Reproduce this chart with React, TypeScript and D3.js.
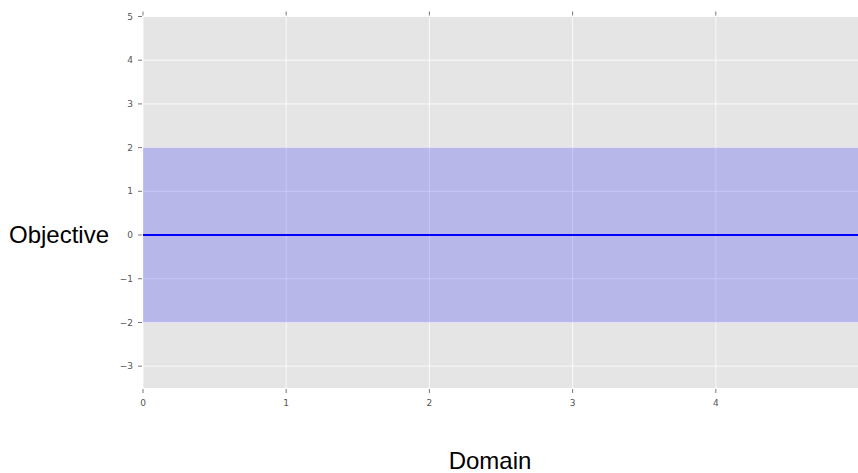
import * as d3 from "d3";
import React from "react";

// chart values
const xDomain = [0, 5];
const yDomain = [-3.5, 5];
const xTicks = [0, 1, 2, 3, 4];
const yTicks = [-3, -2, -1, 0, 1, 2, 3, 4, 5];
const meanX = [0, 5];
const meanY = [0, 0];
const bandLow = [-2, -2];
const bandHigh = [2, 2];

const width = 858;
const height = 473;
const margin = {left: 143, right: 0, top: 16.5, bottom: 85};

export default function App() {
  const x = d3.scaleLinear().domain(xDomain).range([margin.left, width - margin.right + 1]);
  const y = d3.scaleLinear().domain(yDomain).range([height - margin.bottom, margin.top]);

  const pts = meanX.map((v, i) => ({x: v, y: meanY[i], lo: bandLow[i], hi: bandHigh[i]}));

  const area = d3.area<any>().x(d => x(d.x)).y0(d => y(d.lo)).y1(d => y(d.hi));
  const line = d3.line<any>().x(d => x(d.x)).y(d => y(d.y));

  const top = y(yDomain[1]);
  const bottom = y(yDomain[0]);
  const left = x(xDomain[0]);
  const right = x(xDomain[1]);
  const tickColor = "#555";
  const tickFont = "'DejaVu Sans', sans-serif";

  return (
    <div style={{position: "fixed", left: 0, top: 0}}>
      <svg width={width} height={height} style={{display: "block", background: "#fff"}}
        fontFamily="'Liberation Sans', Arial, sans-serif">
        <rect x={left} y={top} width={right - left} height={bottom - top} fill="#e5e5e5" />
        {xTicks.map(t => (
          <line key={"gx" + t} x1={x(t)} x2={x(t)} y1={top} y2={bottom} stroke="#fff" strokeWidth={0.8} />
        ))}
        {yTicks.map(t => (
          <line key={"gy" + t} x1={left} x2={right} y1={y(t)} y2={y(t)} stroke="#fff" strokeWidth={0.8} />
        ))}
        <path d={area(pts) || ""} fill="#0000ff" fillOpacity={0.2} />
        <path d={line(pts) || ""} fill="none" stroke="#0000ff" strokeWidth={2} />

        {xTicks.map(t => (
          <g key={"tx" + t} transform={`translate(${x(t)},0)`}>
            <line y1={bottom + 1} y2={bottom + 5} stroke={tickColor} strokeWidth={0.8} />
            <line y1={top - 1} y2={top - 5} stroke={tickColor} strokeWidth={0.8} />
            <text y={bottom + 18} textAnchor="middle" fontSize={9} fill={tickColor} fontFamily={tickFont}>{t}</text>
          </g>
        ))}
        {yTicks.map(t => (
          <g key={"ty" + t} transform={`translate(0,${y(t)})`}>
            <line x1={left - 1} x2={left - 5} stroke={tickColor} strokeWidth={0.8} />
            <text x={left - 10} dy="0.35em" textAnchor="end" fontSize={9} fill={tickColor} fontFamily={tickFont}>
              {t < 0 ? "\u2212" + Math.abs(t) : t}
            </text>
          </g>
        ))}

        <text x={59} y={y(0)} dy="0.35em" textAnchor="middle" fontSize={24} fill="#000">Objective</text>
        <text x={490} y={461} dy="0.35em" textAnchor="middle" fontSize={24} fill="#000">Domain</text>
      </svg>
    </div>
  );
}
